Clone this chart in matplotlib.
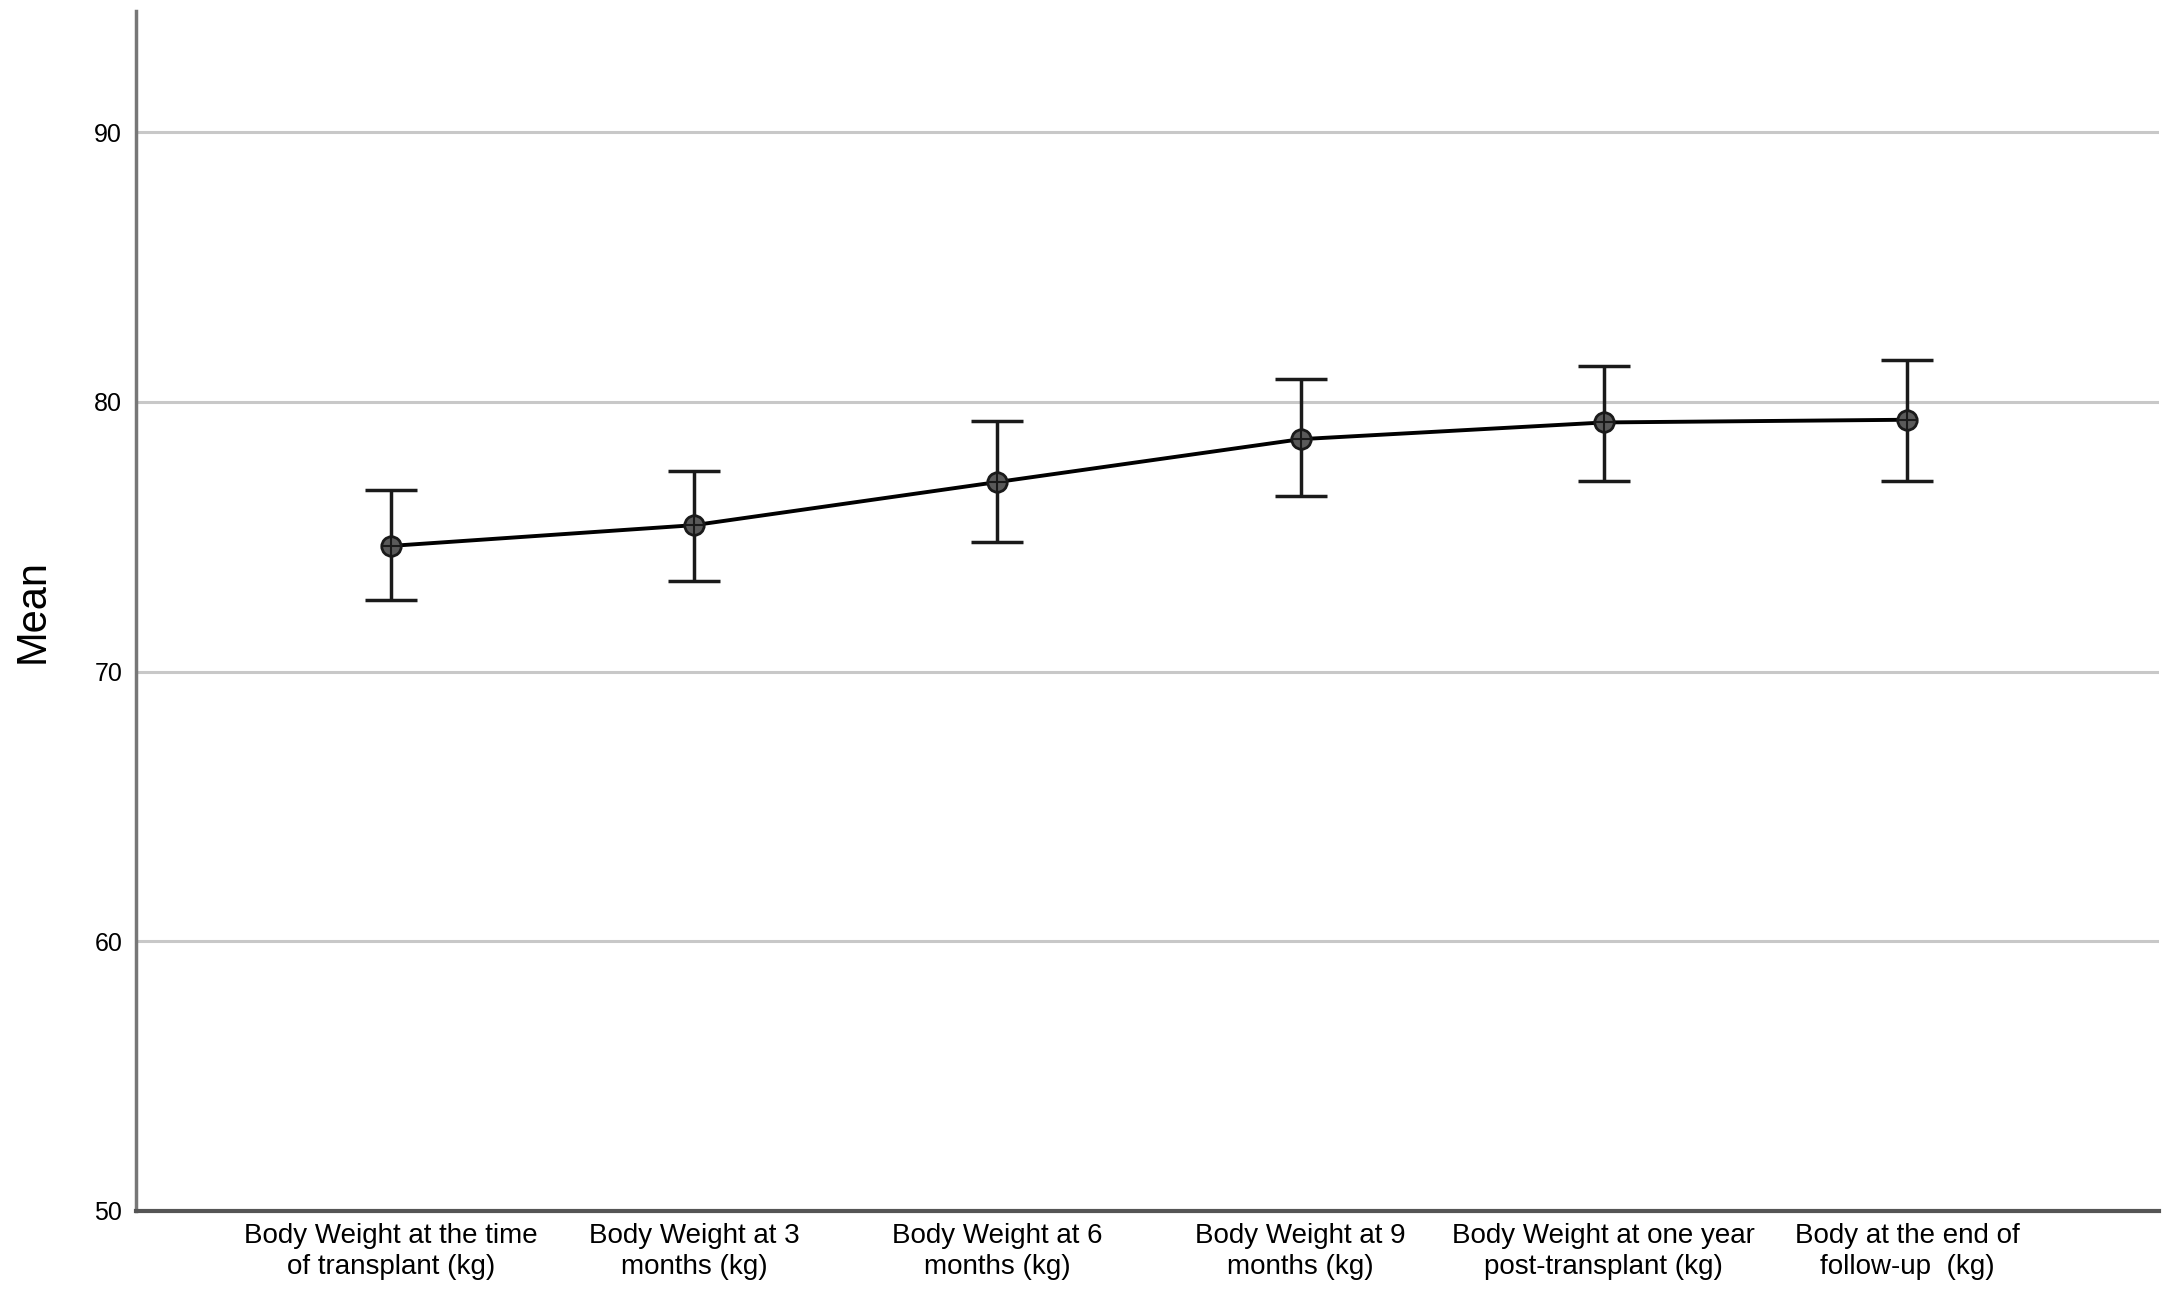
import matplotlib.pyplot as plt

plt.rcParams['font.family'] = ['Liberation Sans', 'DejaVu Sans']

labels = ['Body Weight at the time\nof transplant (kg)',
          'Body Weight at 3\nmonths (kg)',
          'Body Weight at 6\nmonths (kg)',
          'Body Weight at 9\nmonths (kg)',
          'Body Weight at one year\npost-transplant (kg)',
          'Body at the end of\nfollow-up  (kg)']
means = [74.66, 75.43, 77.03, 78.62, 79.24, 79.34]
upper = [76.72, 77.44, 79.29, 80.84, 81.35, 81.56]
lower = [72.65, 73.37, 74.81, 76.51, 77.08, 77.08]

err_low = [m - l for m, l in zip(means, lower)]
err_high = [u - m for m, u in zip(means, upper)]
x = list(range(len(labels)))

fig = plt.figure(figsize=(21.77, 13.01), dpi=100)
ax = fig.add_axes([0.0625, 0.0694, 0.9292, 0.9221])

ax.set_ylim(50, 94.5)
ax.set_xlim(-0.84, 5.83)
ax.set_yticks([50, 60, 70, 80, 90])
ax.yaxis.grid(True, color='#c8c8c8', linewidth=2.2)
ax.set_axisbelow(True)

ax.errorbar(x, means, yerr=[err_low, err_high], fmt='none', ecolor='#1a1a1a',
            elinewidth=2.5, capsize=19, capthick=2.5, zorder=3)
ax.plot(x, means, color='black', linewidth=2.8, zorder=4)
ax.plot(x, means, 'o', markersize=14, markerfacecolor='#5a5a5a',
        markeredgecolor='#1a1a1a', markeredgewidth=2, zorder=5)
ax.plot(x, means, '+', markersize=14, color='#1a1a1a', markeredgewidth=1.5, zorder=6)

ax.set_xticks(x)
ax.set_xticklabels(labels, fontsize=20, linespacing=1.25)
ax.tick_params(axis='y', labelsize=18, length=0, pad=10)
ax.tick_params(axis='x', length=0, pad=9)
ax.set_ylabel('Mean', fontsize=30, labelpad=30)

for side in ['top', 'right']:
    ax.spines[side].set_visible(False)
ax.spines['left'].set_color('#777777')
ax.spines['left'].set_linewidth(2.5)
ax.spines['bottom'].set_color('#555555')
ax.spines['bottom'].set_linewidth(3)

fig.savefig('out.png', dpi=100, facecolor='white')
